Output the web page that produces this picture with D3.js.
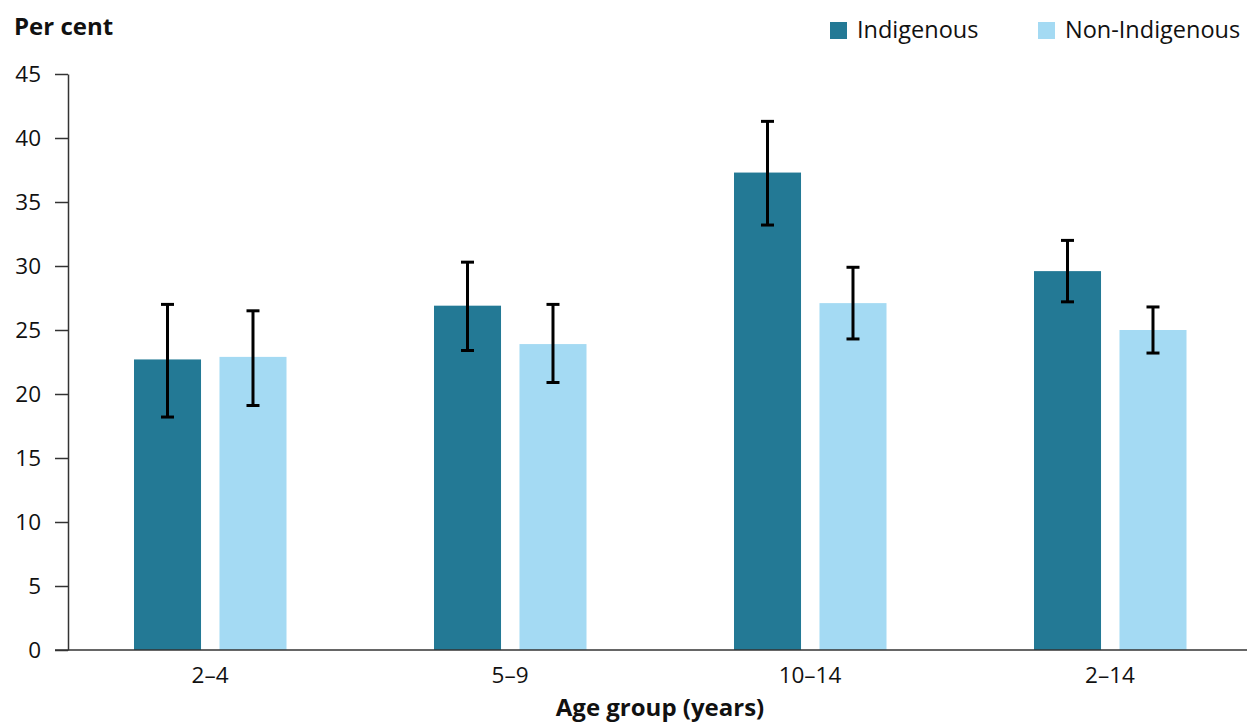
<!DOCTYPE html>
<html><head><meta charset="utf-8">
<script src="https://cdn.jsdelivr.net/npm/d3@7"></script>
<style>body{margin:0;background:#fff;font-family:"Open Sans",sans-serif;}</style>
</head><body>
<svg id="c" width="1247" height="724"></svg>
<script>
const categories = ["2–4", "5–9", "10–14", "2–14"];
const series = ["Indigenous", "Non-Indigenous"];
const indigenous = [22.7, 26.9, 37.3, 29.6];
const indigenousLow = [18.2, 23.4, 33.2, 27.2];
const indigenousHigh = [27.0, 30.3, 41.3, 32.0];
const nonIndigenous = [22.9, 23.9, 27.1, 25.0];
const nonIndigenousLow = [19.1, 20.9, 24.3, 23.2];
const nonIndigenousHigh = [26.5, 27.0, 29.9, 26.8];
const yTicks = [0, 5, 10, 15, 20, 25, 30, 35, 40, 45];
const colors = ["#237995", "#a4daf3"];

const svg = d3.select("#c");
const y = d3.scaleLinear().domain([0, 45]).range([650, 74]);
const x0 = d3.scaleBand().domain(categories).range([60, 1260]).padding(0);
const x1 = d3.scaleBand().domain(series).range([-76, 76.5]).paddingInner(0.216).paddingOuter(0);

const data = categories.map((c, i) => ({
  cat: c,
  vals: [
    {s: series[0], v: indigenous[i], lo: indigenousLow[i], hi: indigenousHigh[i]},
    {s: series[1], v: nonIndigenous[i], lo: nonIndigenousLow[i], hi: nonIndigenousHigh[i]}
  ]
}));

// y axis
const yAxis = d3.axisLeft(y).tickValues(yTicks).tickSize(13).tickSizeOuter(0).tickPadding(14);
const gy = svg.append("g").attr("transform", "translate(68,0)").call(yAxis);
gy.select(".domain").attr("stroke", "#333").attr("stroke-width", 1.5);
gy.selectAll(".tick line").attr("stroke", "#333").attr("stroke-width", 1.5);
gy.selectAll("text").attr("font-size", 22.5).attr("font-family", "Open Sans").attr("fill", "#111");

// bars
const groups = svg.append("g").selectAll("g").data(data).join("g")
  .attr("transform", d => `translate(${x0(d.cat) + x0.bandwidth() / 2},0)`);
groups.selectAll("rect").data(d => d.vals).join("rect")
  .attr("x", d => x1(d.s)).attr("width", x1.bandwidth())
  .attr("y", d => y(d.v)).attr("height", d => y(0) - y(d.v))
  .attr("fill", (d, i) => colors[i]);

// error bars
const eb = groups.selectAll("g.err").data(d => d.vals).join("g").attr("class", "err")
  .attr("transform", d => `translate(${x1(d.s) + x1.bandwidth() / 2},0)`);
eb.append("line").attr("x1", 0).attr("x2", 0).attr("y1", d => y(d.hi)).attr("y2", d => y(d.lo))
  .attr("stroke", "#000").attr("stroke-width", 3);
eb.append("line").attr("x1", -6.5).attr("x2", 6.5).attr("y1", d => y(d.hi)).attr("y2", d => y(d.hi))
  .attr("stroke", "#000").attr("stroke-width", 3);
eb.append("line").attr("x1", -6.5).attr("x2", 6.5).attr("y1", d => y(d.lo)).attr("y2", d => y(d.lo))
  .attr("stroke", "#000").attr("stroke-width", 3);

// x axis
const xAxis = d3.axisBottom(x0).tickSize(0).tickPadding(17);
const gx = svg.append("g").attr("transform", "translate(0,650)").call(xAxis);
gx.select(".domain").remove();
gx.append("line").attr("x1", 55).attr("x2", 1247).attr("y1", 0).attr("y2", 0)
  .attr("stroke", "#333").attr("stroke-width", 1.5);
gx.selectAll("text").attr("font-size", 22.5).attr("font-family", "Open Sans").attr("fill", "#111");

// titles
svg.append("text").attr("x", 14).attr("y", 35).text("Per cent")
  .attr("font-size", 24).attr("font-weight", "bold").attr("fill", "#111");
svg.append("text").attr("x", 660).attr("y", 716).attr("text-anchor", "middle").text("Age group (years)")
  .attr("font-size", 24).attr("font-weight", "bold").attr("fill", "#111");

// legend
const legX = [830, 1038];
series.forEach((s, i) => {
  svg.append("rect").attr("x", legX[i]).attr("y", 22).attr("width", 17).attr("height", 17).attr("fill", colors[i]);
  svg.append("text").attr("x", legX[i] + 27).attr("y", 38).text(s)
    .attr("font-size", 23.5).attr("fill", "#111");
});
</script>
</body></html>
